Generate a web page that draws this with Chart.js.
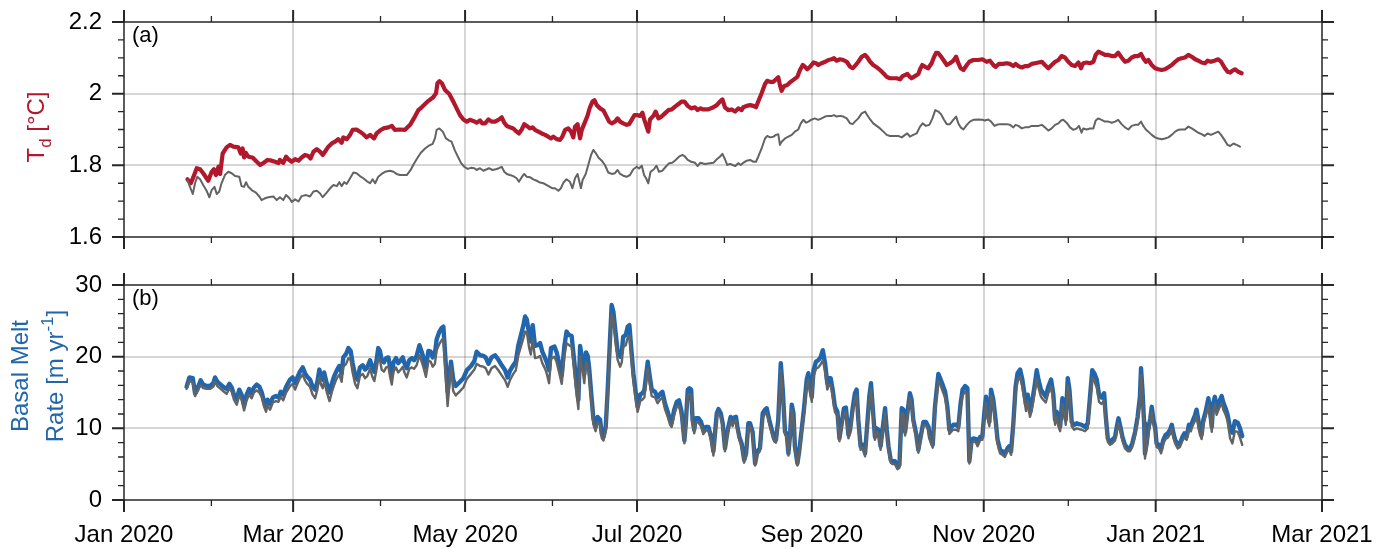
<!DOCTYPE html>
<html>
<head>
<meta charset="utf-8">
<script src="https://cdn.jsdelivr.net/npm/chart.js@4.4.1/dist/chart.umd.min.js"></script>
<style>
  html, body { margin: 0; padding: 0; background: #fff; }
  #topBox { position: absolute; left: 0; top: 0; width: 1378px; height: 262px; }
  #botBox { position: absolute; left: 0; top: 262px; width: 1378px; height: 287px; }
</style>
</head>
<body>
<div id="topBox"><canvas id="tdChart"></canvas></div>
<div id="botBox"><canvas id="meltChart"></canvas></div>
<script>
// x axis: days since 1 Jan 2020, ticks on each month start
var monthStarts = [0, 31, 60, 91, 121, 152, 182, 213, 244, 274, 305, 335, 366, 397, 425];
var monthLabels = ["Jan 2020", "", "Mar 2020", "", "May 2020", "", "Jul 2020", "",
                   "Sep 2020", "", "Nov 2020", "", "Jan 2021", "", "Mar 2021"];

var tdTicks = [1.6, 1.8, 2.0, 2.2];
var tdMinor = [1.65, 1.7, 1.75, 1.85, 1.9, 1.95, 2.05, 2.1, 2.15];
var meltTicks = [0, 10, 20, 30];
var meltMinor = [2, 4, 6, 8, 12, 14, 16, 18, 22, 24, 26, 28];

// panel (a): T_d, red line
var redDays = [
  22.5,23.7,24.6,25.8,27.0,28.1,29.9,31.1,31.9,32.6,
  33.5,34.1,35.0,36.4,37.6,38.8,40.6,41.4,42.1,42.6,
  43.2,44.1,45.6,47.1,48.3,49.4,50.9,52.4,53.6,54.8,
  55.3,56.5,57.5,58.3,59.5,60.7,61.9,63.0,64.2,65.4,
  66.2,67.2,68.4,69.5,70.5,71.3,72.5,73.7,74.9,76.0,
  77.2,77.8,79.0,80.2,81.1,82.5,83.7,84.9,86.1,87.3,
  88.7,89.6,90.8,92.0,93.8,95.0,96.1,97.9,99.7,101.5,
  103.2,104.4,105.6,106.8,108.0,109.7,110.7,111.2,111.9,112.8,
  113.9,115.4,116.8,118.0,119.2,120.4,121.6,122.7,123.9,125.1,
  126.3,127.1,128.1,129.3,130.4,131.6,132.8,134.0,134.9,135.8,
  136.9,138.1,139.3,140.1,141.1,142.0,142.9,144.0,144.9,145.8,
  147.0,148.2,149.4,150.5,151.5,152.3,153.5,154.7,155.5,156.5,
  157.6,158.6,159.4,160.0,160.9,161.8,162.4,163.6,164.5,165.3,
  166.2,166.9,167.7,168.9,170.1,171.2,172.1,173.0,174.2,175.1,
  176.0,177.1,178.3,179.2,180.1,181.1,182.2,183.1,183.9,184.6,
  185.4,186.0,186.6,187.8,188.6,189.6,190.7,191.9,193.1,194.3,
  195.5,196.7,197.8,198.8,200.0,201.2,202.6,203.5,204.4,205.5,
  207.3,209.1,210.3,211.4,212.3,213.2,214.4,215.6,216.8,217.9,
  219.1,219.7,220.9,222.1,223.3,224.2,225.0,226.2,227.4,228.2,
  229.2,230.4,231.3,232.1,232.7,233.3,234.1,235.3,236.5,237.7,
  238.9,239.8,240.8,241.6,242.4,243.4,244.6,245.5,246.3,247.5,
  248.7,249.9,251.1,251.9,252.8,254.0,255.2,256.4,257.6,258.5,
  259.3,260.5,261.7,262.9,263.7,264.7,265.8,267.0,268.2,269.4,
  270.6,271.7,272.9,274.1,275.3,276.2,277.1,277.9,278.8,279.4,
  280.6,281.8,282.4,283.2,284.2,285.3,286.5,287.4,288.1,288.9,
  289.7,290.7,291.9,293.0,294.2,295.2,296.0,296.8,297.8,299.0,
  299.9,301.3,303.1,304.5,306.0,307.2,308.4,309.2,310.4,311.9,
  313.1,314.3,315.5,316.3,317.3,318.5,319.6,320.8,322.0,323.2,
  324.4,325.6,326.7,327.9,329.1,330.3,331.5,332.6,333.8,335.0,
  336.2,337.4,338.6,339.5,340.3,341.5,342.7,343.9,344.7,345.7,
  346.8,348.0,349.2,350.4,351.6,352.7,353.9,355.1,356.3,357.5,
  358.7,359.8,360.8,361.6,362.5,363.4,364.6,365.8,366.9,368.1,
  369.3,370.5,371.7,372.9,374.0,375.2,376.4,377.6,378.8,380.0,
  381.1,382.3,383.5,384.4,385.6,386.8,388.2,389.2,390.4,391.5,
  392.4,393.2,394.1,395.3,396.5
];
var redTd = [
  1.761,1.750,1.767,1.792,1.789,1.778,1.757,1.782,1.789,1.773,
  1.796,1.776,1.833,1.850,1.857,1.852,1.850,1.833,1.847,1.822,
  1.835,1.824,1.822,1.810,1.801,1.806,1.815,1.813,1.810,1.806,
  1.815,1.807,1.824,1.817,1.810,1.817,1.813,1.822,1.829,1.826,
  1.819,1.838,1.845,1.838,1.829,1.838,1.852,1.861,1.866,1.873,
  1.863,1.878,1.873,1.885,1.899,1.900,1.894,1.887,1.878,1.885,
  1.875,1.889,1.897,1.903,1.906,1.910,1.899,1.900,1.899,1.913,
  1.936,1.954,1.962,1.971,1.980,1.990,2.001,2.029,2.035,2.029,
  2.010,1.999,1.978,1.959,1.940,1.928,1.922,1.927,1.924,1.919,
  1.925,1.917,1.917,1.928,1.922,1.922,1.927,1.934,1.919,1.910,
  1.906,1.903,1.894,1.889,1.900,1.915,1.910,1.903,1.906,1.899,
  1.894,1.889,1.885,1.880,1.875,1.880,1.873,1.871,1.880,1.899,
  1.903,1.894,1.878,1.908,1.915,1.875,1.899,1.922,1.940,1.962,
  1.978,1.982,1.968,1.959,1.953,1.936,1.922,1.917,1.922,1.931,
  1.922,1.917,1.913,1.915,1.927,1.940,1.940,1.938,1.947,1.927,
  1.908,1.894,1.928,1.938,1.950,1.931,1.936,1.945,1.954,1.956,
  1.964,1.971,1.978,1.978,1.966,1.959,1.962,1.954,1.959,1.956,
  1.956,1.962,1.968,1.978,1.984,1.962,1.954,1.956,1.950,1.959,
  1.954,1.962,1.966,1.968,1.966,1.962,1.978,2.001,2.027,2.036,
  2.033,2.033,2.040,2.046,2.024,2.008,2.021,2.024,2.033,2.040,
  2.047,2.066,2.080,2.075,2.068,2.075,2.087,2.085,2.080,2.085,
  2.089,2.094,2.096,2.099,2.092,2.096,2.094,2.089,2.075,2.071,
  2.077,2.089,2.103,2.108,2.101,2.089,2.080,2.074,2.066,2.057,
  2.047,2.043,2.043,2.043,2.040,2.049,2.052,2.055,2.047,2.043,
  2.049,2.055,2.068,2.080,2.075,2.071,2.085,2.103,2.114,2.113,
  2.105,2.094,2.080,2.085,2.092,2.103,2.085,2.071,2.066,2.080,
  2.089,2.094,2.094,2.096,2.089,2.092,2.080,2.075,2.083,2.083,
  2.085,2.083,2.077,2.083,2.077,2.073,2.077,2.077,2.083,2.085,
  2.087,2.089,2.080,2.071,2.080,2.089,2.094,2.105,2.101,2.089,
  2.080,2.077,2.087,2.071,2.085,2.087,2.085,2.089,2.108,2.117,
  2.113,2.108,2.108,2.105,2.105,2.114,2.101,2.089,2.092,2.101,
  2.105,2.105,2.111,2.099,2.089,2.094,2.080,2.071,2.068,2.066,
  2.068,2.074,2.080,2.089,2.096,2.099,2.101,2.108,2.103,2.096,
  2.092,2.087,2.085,2.092,2.089,2.092,2.096,2.089,2.073,2.061,
  2.059,2.064,2.068,2.061,2.057
];

// panel (a): grey line
var greyDays = [
  22.5,23.4,24.4,25.2,26.0,27.0,28.1,29.3,30.3,31.1,
  32.1,32.9,33.8,34.6,35.8,37.0,38.2,39.4,40.9,41.7,
  42.6,43.3,44.1,45.3,46.8,48.0,48.8,50.0,51.2,53.0,
  54.2,55.3,56.5,57.5,58.7,59.5,60.7,61.9,63.0,64.6,
  66.0,67.2,68.4,69.5,70.5,71.9,73.1,74.3,75.5,76.4,
  77.2,78.1,79.0,80.2,81.4,82.5,83.7,84.9,86.1,87.3,
  88.2,89.1,90.2,91.4,92.6,94.4,95.6,96.7,97.9,100.3,
  101.7,102.6,103.8,105.3,106.8,108.0,109.5,110.3,110.9,111.9,
  113.1,114.2,115.4,116.2,117.4,118.6,119.6,120.7,121.9,123.1,
  124.3,125.1,126.3,127.5,128.7,129.5,130.7,131.9,133.0,134.0,
  134.9,135.8,136.9,138.1,139.3,140.1,141.1,142.0,142.9,144.0,
  145.2,146.4,147.6,148.8,150.0,151.1,152.0,152.9,154.1,155.0,
  155.9,157.0,158.2,159.1,160.0,160.9,162.1,162.7,163.8,164.7,
  165.7,166.5,167.3,168.3,169.5,170.6,171.8,173.0,174.2,175.1,
  176.0,177.1,178.3,179.5,180.7,181.9,182.7,183.7,184.5,185.2,
  186.0,186.8,188.0,188.9,189.8,191.0,192.2,193.4,194.5,195.7,
  196.9,198.1,198.8,200.0,201.2,202.6,203.5,204.4,206.1,207.9,
  209.1,210.3,211.4,212.3,213.2,214.0,215.0,215.9,216.9,217.9,
  218.8,219.7,220.9,222.1,223.3,224.2,225.0,226.2,227.4,228.2,
  229.2,230.4,231.3,232.1,232.7,233.3,234.5,235.7,236.9,238.0,
  239.2,240.1,241.0,242.0,242.8,244.0,245.1,246.3,247.5,248.7,
  249.9,251.1,251.9,252.8,254.0,255.2,256.4,257.6,258.5,259.3,
  260.5,261.7,262.9,263.7,264.7,265.8,267.0,268.2,269.4,270.6,
  271.7,272.9,274.7,275.9,277.1,277.9,278.8,280.0,281.2,282.4,
  283.3,284.5,285.7,286.8,287.8,288.9,289.8,290.9,291.9,293.0,
  294.2,295.2,296.0,296.8,297.8,299.0,300.1,301.3,303.1,304.5,
  305.4,306.6,307.6,308.8,309.6,310.8,311.9,313.1,314.3,315.5,
  316.3,317.3,318.5,319.6,320.8,322.0,323.2,324.4,325.6,326.7,
  327.9,329.1,330.3,331.5,332.4,333.2,334.4,335.6,336.8,338.0,
  338.8,339.7,340.3,341.5,342.7,343.9,344.7,345.7,346.8,348.0,
  349.2,350.4,351.6,352.7,353.9,355.1,356.3,357.5,358.7,359.8,
  360.8,361.6,362.5,363.4,364.6,365.8,366.9,368.1,369.3,370.5,
  371.7,372.9,374.0,375.2,376.4,377.6,378.8,380.0,381.1,382.3,
  383.3,384.4,385.6,386.8,388.2,389.2,390.4,391.5,392.4,393.6,
  394.7,395.9
];
var greyTd = [
  1.759,1.740,1.720,1.750,1.768,1.761,1.745,1.729,1.711,1.731,
  1.740,1.720,1.727,1.750,1.773,1.782,1.778,1.770,1.768,1.742,
  1.740,1.753,1.740,1.731,1.724,1.713,1.703,1.708,1.711,1.713,
  1.703,1.711,1.703,1.717,1.708,1.698,1.705,1.699,1.714,1.717,
  1.713,1.727,1.729,1.722,1.711,1.724,1.736,1.745,1.742,1.753,
  1.742,1.753,1.748,1.764,1.780,1.778,1.770,1.764,1.756,1.750,
  1.761,1.750,1.768,1.776,1.782,1.785,1.782,1.776,1.773,1.773,
  1.787,1.801,1.817,1.835,1.847,1.854,1.860,1.875,1.899,1.903,
  1.894,1.875,1.869,1.866,1.841,1.822,1.806,1.796,1.790,1.793,
  1.792,1.787,1.792,1.785,1.789,1.792,1.787,1.789,1.792,1.796,
  1.782,1.776,1.773,1.770,1.764,1.754,1.767,1.776,1.768,1.767,
  1.761,1.757,1.752,1.750,1.745,1.740,1.736,1.736,1.729,1.736,
  1.752,1.761,1.754,1.736,1.764,1.776,1.736,1.759,1.776,1.801,
  1.829,1.843,1.835,1.822,1.813,1.801,1.780,1.776,1.778,1.787,
  1.776,1.771,1.768,1.773,1.789,1.796,1.791,1.799,1.773,1.764,
  1.750,1.782,1.789,1.799,1.782,1.785,1.796,1.806,1.807,1.815,
  1.824,1.829,1.826,1.815,1.810,1.807,1.798,1.807,1.804,1.806,
  1.807,1.817,1.824,1.832,1.817,1.801,1.804,1.801,1.798,1.806,
  1.801,1.807,1.813,1.815,1.810,1.810,1.824,1.847,1.875,1.882,
  1.878,1.880,1.885,1.887,1.857,1.866,1.875,1.880,1.885,1.894,
  1.900,1.917,1.927,1.919,1.922,1.928,1.931,1.927,1.931,1.936,
  1.938,1.938,1.940,1.936,1.938,1.936,1.931,1.917,1.915,1.922,
  1.931,1.945,1.950,1.940,1.928,1.917,1.910,1.903,1.894,1.885,
  1.882,1.882,1.882,1.878,1.885,1.889,1.880,1.885,1.889,1.908,
  1.917,1.910,1.913,1.931,1.954,1.950,1.943,1.927,1.915,1.915,
  1.927,1.936,1.917,1.906,1.900,1.913,1.922,1.927,1.928,1.927,
  1.925,1.928,1.922,1.910,1.913,1.915,1.915,1.915,1.913,1.906,
  1.913,1.910,1.903,1.906,1.906,1.910,1.910,1.910,1.913,1.906,
  1.897,1.903,1.913,1.917,1.925,1.927,1.919,1.906,1.899,1.903,
  1.910,1.891,1.903,1.900,1.903,1.903,1.925,1.931,1.927,1.922,
  1.922,1.919,1.922,1.927,1.915,1.906,1.900,1.910,1.913,1.913,
  1.922,1.910,1.900,1.894,1.885,1.878,1.875,1.873,1.875,1.878,
  1.885,1.894,1.899,1.900,1.900,1.908,1.903,1.897,1.891,1.887,
  1.882,1.889,1.885,1.889,1.894,1.885,1.871,1.857,1.854,1.861,
  1.857,1.852
];

// panel (b): basal melt rate, blue and grey share the days
var meltDays = [
  22.2,23.2,24.4,25.2,26.4,27.2,28.1,29.3,30.5,31.7,
  32.3,33.1,34.3,35.5,36.4,37.4,38.2,39.0,40.0,40.9,
  41.7,42.6,43.5,44.4,45.3,46.1,47.1,48.0,48.8,49.7,
  50.4,50.9,51.8,52.8,53.9,54.8,55.6,56.5,57.5,58.9,
  59.8,60.7,61.5,62.4,63.4,64.2,65.0,66.0,66.9,67.8,
  68.6,69.3,69.9,70.5,71.0,71.9,72.9,73.7,74.5,75.5,
  76.4,77.2,77.8,78.8,79.6,80.4,81.1,82.0,82.8,83.7,
  84.7,85.5,86.3,87.3,88.1,88.8,89.6,90.2,90.8,91.4,
  92.2,93.0,93.8,94.4,95.0,95.6,96.5,97.3,98.2,98.9,
  99.5,100.3,101.2,102.1,102.9,103.8,104.8,105.6,106.4,107.1,
  108.0,108.8,109.5,110.3,110.9,111.9,112.7,113.3,114.8,116.0,
  116.8,117.7,119.2,120.4,121.6,123.1,124.3,125.1,126.3,127.5,
  128.3,129.3,130.4,131.6,132.8,134.0,135.2,136.1,137.0,138.1,
  139.0,139.9,140.8,141.7,142.3,142.9,143.7,144.3,145.0,145.8,
  146.8,147.6,148.4,149.4,150.0,150.8,151.5,152.7,153.5,154.3,
  155.3,156.2,157.0,157.9,158.8,159.8,160.6,161.2,161.8,162.6,
  163.3,163.9,164.5,165.0,165.7,166.5,167.3,168.0,168.9,169.5,
  170.1,170.9,171.6,172.4,173.0,173.6,174.4,175.1,176.0,176.6,
  177.1,178.0,178.7,179.3,179.9,180.7,181.5,182.2,183.1,183.9,
  184.6,185.1,185.8,186.6,187.2,188.4,189.3,190.2,191.0,191.9,
  192.9,193.7,194.3,195.2,196.1,196.9,197.8,198.8,199.3,200.0,
  200.6,201.2,201.7,202.3,202.8,203.8,204.7,205.5,206.4,207.3,
  208.3,209.1,210.3,210.9,211.7,212.4,213.2,213.8,214.4,215.2,
  215.9,216.4,217.1,217.6,218.3,219.1,220.0,220.7,221.5,222.1,
  223.0,223.9,224.7,225.6,226.6,227.4,228.0,228.9,229.8,230.6,
  231.3,232.1,233.0,233.7,234.5,235.1,235.7,236.3,236.9,237.5,
  238.0,238.9,239.6,240.4,241.2,242.2,242.8,243.4,244.0,244.6,
  245.5,246.3,247.1,247.9,248.7,249.5,250.2,250.7,251.4,252.2,
  253.1,253.8,254.6,255.4,256.1,257.0,257.6,258.5,259.3,259.9,
  260.5,261.3,262.1,262.9,263.7,264.4,265.0,265.6,266.4,267.0,
  267.6,268.4,269.1,270.0,270.6,271.2,272.0,272.7,273.5,274.4,
  275.1,275.9,276.5,277.1,277.9,278.8,279.4,280.0,281.0,281.8,
  282.6,283.6,284.5,285.4,285.9,286.9,287.7,288.9,289.5,290.4,
  291.3,292.1,292.8,293.6,294.2,295.2,296.0,296.8,297.5,298.4,
  299.2,299.9,300.7,301.3,302.3,302.8,303.7,304.5,305.2,305.8,
  306.4,307.0,307.6,308.4,309.2,309.9,310.8,311.6,312.5,313.4,
  314.0,314.7,315.5,316.3,317.0,317.9,318.7,319.4,320.0,320.6,
  321.4,322.0,323.0,323.8,324.4,325.3,326.1,327.0,327.9,328.9,
  329.7,330.3,330.9,331.5,332.1,332.9,333.6,334.1,334.8,335.4,
  336.2,337.1,338.0,338.8,339.7,340.9,341.9,342.7,343.5,344.2,
  345.1,345.9,346.8,347.7,348.3,349.0,349.8,350.6,351.6,352.2,
  352.8,353.5,354.2,355.1,356.1,356.9,357.7,358.7,359.6,360.4,
  360.8,361.3,361.9,362.2,362.8,363.4,364.1,364.6,365.2,365.8,
  366.3,367.2,367.9,368.7,369.5,370.3,371.1,371.7,372.3,372.9,
  373.8,374.6,375.5,376.2,377.0,377.8,378.5,379.0,380.0,380.5,
  381.1,381.7,382.3,382.9,383.7,384.7,385.3,385.9,386.4,387.0,
  387.6,388.5,389.4,390.0,390.8,391.5,392.4,393.2,394.1,395.1,
  395.9,396.7
];
var meltBlue = [
  15.8,17.1,17.0,14.9,15.9,16.7,16.1,15.9,15.9,16.3,
  17.1,16.5,16.1,15.7,15.5,16.2,15.7,14.7,14.1,15.4,
  14.7,13.3,14.7,15.5,14.9,15.7,16.1,15.8,15.1,13.7,
  13.1,14.0,13.4,14.3,14.5,14.3,15.1,14.7,15.8,16.8,
  17.1,16.3,17.1,17.9,18.5,17.7,17.2,16.8,15.8,15.4,
  16.5,18.2,17.2,16.8,17.8,16.3,15.0,16.2,17.2,18.1,
  18.7,17.7,19.9,20.4,21.2,20.8,19.1,17.4,16.8,18.5,
  18.8,18.2,18.5,19.5,18.5,17.9,19.5,21.2,20.8,19.5,
  19.2,19.8,19.9,18.5,17.4,19.2,19.8,19.1,19.5,19.9,
  19.1,18.4,19.5,19.8,19.5,20.1,21.6,20.7,19.6,18.5,
  20.8,20.7,19.9,20.4,22.4,23.5,24.0,24.2,15.1,19.3,
  16.8,15.9,16.5,17.0,18.1,18.7,19.4,20.7,20.2,20.1,
  19.9,19.0,19.9,20.2,19.6,18.8,18.1,17.1,18.1,18.8,
  19.3,21.6,23.0,24.4,25.6,25.2,23.2,22.1,24.4,21.5,
  21.6,21.9,20.7,19.8,19.2,18.1,21.2,21.4,20.6,19.2,
  17.4,21.4,23.5,23.0,22.9,19.1,15.8,14.0,21.5,19.5,
  17.6,20.6,20.1,18.5,15.1,11.4,10.2,11.6,11.2,9.2,
  8.8,10.2,15.4,22.3,27.2,26.3,23.3,20.8,20.0,20.7,
  22.8,23.0,24.2,24.4,21.4,17.7,15.1,13.0,14.7,14.9,
  15.3,17.0,19.3,17.0,15.4,15.1,14.3,14.8,15.1,13.5,
  12.3,11.2,10.8,12.6,13.7,13.9,12.3,8.3,10.7,15.4,
  15.6,15.4,11.2,9.8,11.4,11.4,10.9,9.8,10.2,10.2,
  8.8,6.8,12.1,12.7,12.1,10.7,7.2,8.8,10.2,11.6,
  10.8,11.5,11.6,10.2,8.8,7.9,5.6,6.5,10.7,10.7,
  9.5,5.1,6.8,7.2,12.1,12.6,12.8,11.2,9.8,8.6,
  8.4,11.2,19.1,15.4,9.5,9.3,6.5,9.1,13.3,12.1,
  7.5,5.1,7.0,9.8,12.6,16.8,17.7,15.8,14.4,18.1,
  19.3,19.5,19.9,20.9,19.1,16.3,17.0,17.0,15.4,13.0,
  12.3,8.6,10.7,12.8,12.9,9.1,9.8,12.8,14.9,15.4,
  11.2,7.5,7.7,6.5,10.7,14.4,16.3,13.0,8.8,10.0,
  9.8,7.5,9.8,12.8,9.8,7.5,5.6,5.4,5.4,4.7,
  4.9,12.8,12.6,9.5,12.1,14.9,14.0,11.2,9.3,7.0,
  8.8,10.9,10.9,10.2,8.8,7.7,13.0,17.6,17.0,16.1,
  15.1,13.0,9.8,10.2,10.5,10.5,10.2,13.5,15.4,15.9,
  15.6,5.4,8.4,8.6,8.5,7.9,8.8,8.8,12.1,14.4,
  12.1,10.9,15.4,14.0,11.2,8.4,7.0,6.8,6.5,7.2,
  7.5,6.8,10.7,15.8,17.7,18.2,16.8,14.9,13.3,14.7,
  12.3,13.3,15.8,18.1,16.8,15.4,14.9,14.4,15.8,16.8,
  14.7,11.2,12.3,10.9,10.2,14.2,12.8,11.2,17.0,15.4,
  10.9,10.5,10.7,10.6,10.5,10.2,10.7,14.4,18.1,17.7,
  16.8,14.7,14.3,14.9,11.6,8.6,8.1,8.4,8.8,10.2,
  11.4,10.2,8.8,7.7,7.2,7.2,7.9,9.5,11.6,14.4,
  18.4,15.4,10.7,6.5,7.9,10.0,11.4,13.0,11.2,10.2,
  7.9,7.7,7.0,8.4,9.1,9.3,9.8,10.5,9.3,8.4,
  7.7,7.9,8.8,9.3,8.9,10.5,10.2,10.9,11.9,12.6,
  11.2,9.8,9.1,11.2,12.3,14.2,12.3,10.2,13.5,14.4,
  12.8,13.7,14.5,13.6,12.8,11.9,10.0,9.4,11.0,10.8,
  10.0,8.9
];
var meltGrey = [
  15.5,16.6,16.4,14.5,15.4,16.1,15.6,15.5,15.5,15.8,
  16.5,15.9,15.5,15.1,14.8,15.6,15.1,14.0,13.3,14.6,
  14.0,12.5,13.9,14.7,14.2,15.0,15.3,15.0,14.4,13.0,
  12.3,13.2,12.6,13.6,13.8,13.7,14.4,13.9,15.0,15.9,
  16.2,15.4,16.2,17.0,17.5,16.7,16.2,15.8,14.7,14.2,
  15.4,17.1,16.1,15.6,16.6,15.1,13.8,15.0,16.0,17.0,
  17.5,16.5,18.6,19.0,19.8,19.5,17.8,16.2,15.6,17.3,
  17.6,17.0,17.3,18.3,17.2,16.6,18.2,19.8,19.5,18.2,
  17.9,18.5,18.6,17.2,16.1,17.9,18.5,17.8,18.2,18.6,
  17.8,17.1,18.3,18.5,18.3,18.8,20.2,19.3,18.3,17.2,
  19.4,19.3,18.6,19.0,20.9,21.8,22.3,22.6,13.1,18.6,
  15.2,14.6,15.2,15.7,16.9,17.6,18.2,19.0,18.7,18.6,
  18.4,17.5,18.4,18.7,18.1,17.4,16.7,15.8,16.8,17.6,
  18.1,20.2,21.4,22.6,23.5,23.4,21.3,20.3,22.4,19.8,
  19.9,20.1,19.1,18.3,17.6,16.3,19.7,20.0,19.2,17.9,
  16.2,20.0,21.9,21.6,21.4,17.8,14.6,12.7,20.1,18.3,
  16.3,19.3,18.9,17.3,14.1,10.6,9.6,10.9,10.5,8.6,
  8.3,9.7,14.6,21.2,25.9,25.0,22.0,19.6,18.6,19.2,
  21.4,21.6,22.7,22.9,20.1,16.6,14.2,12.3,13.8,14.0,
  14.3,16.0,18.3,16.0,14.5,14.3,13.5,14.0,14.3,12.7,
  11.6,10.5,10.2,11.9,13.0,13.1,11.6,7.9,10.1,14.6,
  14.8,14.6,10.6,9.3,10.8,10.8,10.3,9.2,9.7,9.7,
  8.3,6.2,11.6,12.1,11.6,10.2,6.8,8.4,9.8,11.1,
  10.3,11.0,11.1,9.8,8.4,7.5,5.2,6.1,10.2,10.2,
  9.1,4.8,6.4,6.8,11.5,12.0,12.2,10.6,9.3,8.2,
  8.0,10.6,18.1,14.6,9.1,8.9,6.2,8.7,12.6,11.5,
  7.1,4.8,6.6,9.3,11.9,15.9,16.8,15.0,13.7,17.2,
  18.3,18.5,18.9,19.5,18.0,15.4,16.1,16.1,14.5,12.3,
  11.7,8.2,10.1,12.1,12.3,8.6,9.3,12.1,14.1,14.6,
  10.6,7.0,7.3,6.1,10.1,13.7,15.5,12.4,8.4,9.5,
  9.3,7.0,9.3,12.1,9.3,7.0,5.2,5.0,5.0,4.3,
  4.5,12.1,11.9,9.0,11.5,14.2,13.3,10.6,8.8,6.6,
  8.4,10.4,10.4,9.7,8.4,7.3,12.4,16.6,16.2,15.2,
  14.3,12.3,9.2,9.6,9.8,9.8,9.6,12.8,14.6,15.1,
  14.8,5.1,7.9,8.2,8.0,7.5,8.4,8.4,11.4,13.5,
  11.4,10.3,14.5,13.2,10.5,7.9,6.5,6.3,6.0,6.8,
  7.0,6.3,10.0,14.9,16.6,17.2,15.7,14.0,12.4,13.8,
  11.6,12.4,14.8,16.9,15.7,14.4,14.0,13.6,14.9,15.8,
  13.8,10.5,11.6,10.3,9.6,13.4,12.0,10.5,16.0,14.5,
  10.3,9.8,10.0,9.9,9.8,9.6,10.0,13.6,17.1,16.6,
  15.7,13.7,13.4,13.9,10.9,8.1,7.7,7.9,8.3,9.6,
  10.7,9.6,8.3,7.2,6.8,6.8,7.4,9.0,11.0,13.7,
  17.5,14.6,10.1,5.8,7.4,9.3,10.7,12.3,10.5,9.6,
  7.4,7.2,6.5,7.9,8.5,8.7,9.2,9.9,8.7,7.9,
  7.2,7.4,8.3,8.7,8.4,9.8,9.6,10.3,11.1,11.8,
  10.5,9.1,8.5,10.5,11.6,13.3,11.5,9.5,12.6,13.4,
  11.9,12.8,13.5,12.6,11.9,11.0,8.6,7.9,9.6,9.5,
  8.7,7.7
];

var RED = "#b2182b", BLUE = "#2166ac", GREY = "#636363";
var GRID = "rgba(0,0,0,0.16)", FRAME = "#262626", CLEAR = "rgba(0,0,0,0)";
var FONT = "'Liberation Sans', Arial, Helvetica, sans-serif";

Chart.defaults.font.family = FONT;
Chart.defaults.color = "#000";

function pts(xs, ys) {
    return xs.map(function (x, i) { return {x: x, y: ys[i]}; });
}

// rotated y title, parts may be sub- or superscript
function drawTitle(ctx, parts, cx, cy, size, color) {
    ctx.save();
    ctx.translate(cx, cy);
    ctx.rotate(-Math.PI / 2);
    ctx.fillStyle = color;
    ctx.textAlign = "left";
    ctx.textBaseline = "alphabetic";
    var fontOf = function (p) {
        return (p.sub || p.sup ? Math.round(size * 0.7) : size) + "px " + FONT;
    };
    var total = 0;
    parts.forEach(function (p) { ctx.font = fontOf(p); total += ctx.measureText(p.t).width; });
    var x = -total / 2;
    parts.forEach(function (p) {
        ctx.font = fontOf(p);
        var dy = p.sub ? size * 0.3 : (p.sup ? -size * 0.42 : 0);
        ctx.fillText(p.t, x, size * 0.36 + dy);
        x += ctx.measureText(p.t).width;
    });
    ctx.restore();
}

// box, outward ticks, panel letter and y title
var framePlugin = {
    id: "frame",
    afterDraw: function (chart, args, o) {
        var ctx = chart.ctx, a = chart.chartArea;
        var xs = chart.scales.x, ys = chart.scales.y;
        ctx.save();
        ctx.strokeStyle = FRAME;
        monthStarts.forEach(function (d, i) {
            var px = xs.getPixelForValue(d);
            var len = monthLabels[i] ? 12 : 6;
            ctx.lineWidth = monthLabels[i] ? 2 : 1.3;
            ctx.beginPath();
            ctx.moveTo(px, a.top - len); ctx.lineTo(px, a.top);
            ctx.moveTo(px, a.bottom); ctx.lineTo(px, a.bottom + len);
            ctx.stroke();
        });
        var yTick = function (v, len, lw) {
            var py = ys.getPixelForValue(v);
            ctx.lineWidth = lw;
            ctx.beginPath();
            ctx.moveTo(a.left - len, py); ctx.lineTo(a.left, py);
            ctx.moveTo(a.right, py); ctx.lineTo(a.right + len, py);
            ctx.stroke();
        };
        o.major.forEach(function (v) { yTick(v, 12, 2); });
        o.minor.forEach(function (v) { yTick(v, 6, 1.3); });
        ctx.lineWidth = 1.5;
        ctx.strokeRect(a.left, a.top, a.right - a.left, a.bottom - a.top);

        ctx.fillStyle = "#000";
        ctx.font = "22px " + FONT;
        ctx.textAlign = "left";
        ctx.textBaseline = "alphabetic";
        ctx.fillText(o.panel, a.left + 8, a.top + 20);
        o.titles.forEach(function (t) { drawTitle(ctx, t.parts, t.x, t.y, 24, o.color); });
        ctx.restore();
    }
};

// label offsets come from an invisible tick length so the layout padding stays put
function xAxis(showLabels, h) {
    return {
        type: "linear", min: 0, max: 425, z: 1,
        afterBuildTicks: function (s) { s.ticks = monthStarts.map(function (v) { return {value: v}; }); },
        afterFit: function (s) { s.height = h; },
        grid: {
            color: function (c) {
                var i = c.index;
                return (monthLabels[i] && i > 0 && i < monthStarts.length - 1) ? GRID : CLEAR;
            },
            lineWidth: 2, drawTicks: true, tickLength: 21, tickColor: CLEAR
        },
        border: {display: false},
        ticks: {
            display: showLabels, autoSkip: false, maxRotation: 0, minRotation: 0,
            padding: 0, font: {size: 24}, color: "#000",
            callback: function (v, i) { return monthLabels[i]; }
        }
    };
}

function yAxis(min, max, ticks) {
    return {
        min: min, max: max, z: 1,
        afterBuildTicks: function (s) { s.ticks = ticks.map(function (v) { return {value: v}; }); },
        afterFit: function (s) { s.width = 124; },
        grid: {
            color: function (c) { return (c.tick.value > min && c.tick.value < max) ? GRID : CLEAR; },
            lineWidth: 2, drawTicks: true, tickLength: 22, tickColor: CLEAR
        },
        border: {display: false},
        ticks: {
            padding: 0, font: {size: 24}, color: "#000",
            callback: function (v) { return String(Math.round(v * 10) / 10); }
        }
    };
}

function lineSet(data, color, width) {
    return {
        data: data, borderColor: color, borderWidth: width, pointRadius: 0,
        fill: false, tension: 0, borderJoinStyle: "round", borderCapStyle: "round"
    };
}

new Chart("tdChart", {
    type: "line",
    data: {
        datasets: [
            lineSet(pts(greyDays, greyTd), GREY, 2),
            lineSet(pts(redDays, redTd), RED, 4.2)
        ]
    },
    options: {
        responsive: true, maintainAspectRatio: false, animation: false, devicePixelRatio: 1,
        events: [],
        layout: {padding: {top: 22, right: 56, left: 0, bottom: 0}},
        scales: {x: xAxis(false, 25), y: yAxis(1.6, 2.2, tdTicks)},
        plugins: {
            legend: {display: false}, tooltip: {enabled: false},
            frame: {
                major: tdTicks, minor: tdMinor, panel: "(a)", color: RED,
                titles: [{x: 35, y: 127, parts: [{t: "T"}, {t: "d", sub: true}, {t: " [°C]"}]}]
            }
        }
    },
    plugins: [framePlugin]
});

new Chart("meltChart", {
    type: "line",
    data: {
        datasets: [
            lineSet(pts(meltDays, meltGrey), GREY, 2.4),
            lineSet(pts(meltDays, meltBlue), BLUE, 4.4)
        ]
    },
    options: {
        responsive: true, maintainAspectRatio: false, animation: false, devicePixelRatio: 1,
        events: [],
        layout: {padding: {top: 23, right: 56, left: 0, bottom: 0}},
        scales: {x: xAxis(true, 49), y: yAxis(0, 30, meltTicks)},
        plugins: {
            legend: {display: false}, tooltip: {enabled: false},
            frame: {
                major: meltTicks, minor: meltMinor, panel: "(b)", color: BLUE,
                titles: [
                    {x: 19, y: 114, parts: [{t: "Basal Melt"}]},
                    {x: 54, y: 114, parts: [{t: "Rate [m yr"}, {t: "-1", sup: true}, {t: "]"}]}
                ]
            }
        }
    },
    plugins: [framePlugin]
});
</script>
</body>
</html>
